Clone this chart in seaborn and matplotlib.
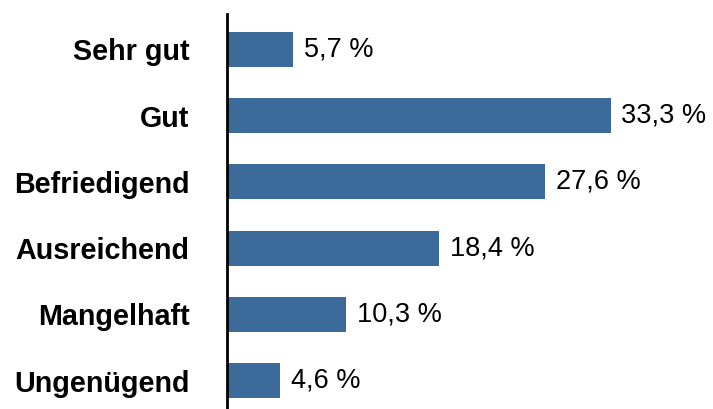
import matplotlib
matplotlib.use("Agg")
import matplotlib.pyplot as plt
import seaborn as sns
import pandas as pd

categories = ["Sehr gut", "Gut", "Befriedigend", "Ausreichend", "Mangelhaft", "Ungenügend"]
values = [5.7, 33.3, 27.6, 18.4, 10.3, 4.6]
value_labels = ["5,7 %", "33,3 %", "27,6 %", "18,4 %", "10,3 %", "4,6 %"]

sns.set_theme(style="white")
plt.rcParams["font.family"] = ["Liberation Sans", "DejaVu Sans"]

df = pd.DataFrame({"Note": categories, "Anteil": values})

fig = plt.figure(figsize=(7.13, 4.09), dpi=100)
ax = fig.add_axes([227 / 713, 0.0, 1 - 227 / 713, 1 - 14 / 409])

sns.barplot(data=df, x="Anteil", y="Note", order=categories, color="#3C6A9B",
            width=0.53, saturation=1, linewidth=0, ax=ax)

for i, (v, lab) in enumerate(zip(values, value_labels)):
    ax.text(v + 0.95, i, lab, va="center", ha="left", fontsize=19.5, color="black")

ax.set_xlim(0, 42.2)
ax.set_ylim(5.43, -0.536)
ax.set_xlabel("")
ax.set_ylabel("")
ax.set_xticks([])
ax.tick_params(axis="y", length=0, pad=27)
for t in ax.get_yticklabels():
    t.set_fontweight("bold")
    t.set_fontsize(20.7)
    t.set_color("black")

for s in ["top", "right", "bottom"]:
    ax.spines[s].set_visible(False)
ax.spines["left"].set_color("black")
ax.spines["left"].set_linewidth(2)

fig.savefig("out.png", dpi=100)
